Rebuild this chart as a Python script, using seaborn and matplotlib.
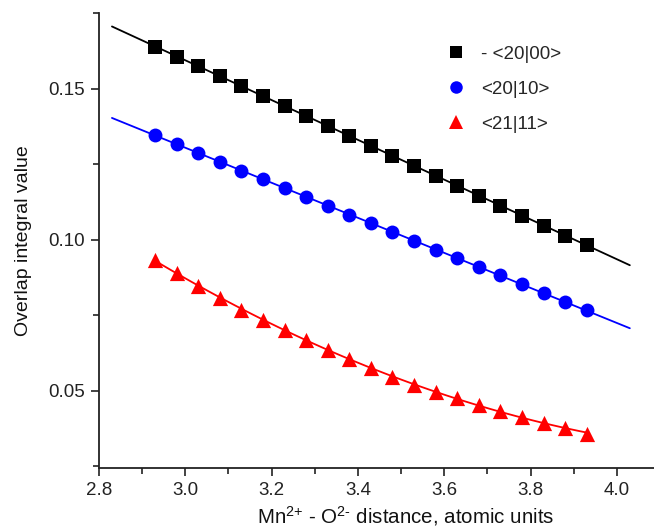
import numpy as np
import pandas as pd
import matplotlib
matplotlib.use("Agg")
import matplotlib.pyplot as plt
import seaborn as sns
from matplotlib.ticker import MultipleLocator

distance = [2.93, 2.98, 3.03, 3.08, 3.13, 3.18, 3.23, 3.28, 3.33, 3.38, 3.43,
            3.48, 3.53, 3.58, 3.63, 3.68, 3.73, 3.78, 3.83, 3.88, 3.93]
s20_00 = [0.1638, 0.1605, 0.1574, 0.1541, 0.1509, 0.1476, 0.1443, 0.1410, 0.1377,
          0.1344, 0.1311, 0.1278, 0.1245, 0.1212, 0.1179, 0.1146, 0.1113, 0.1080,
          0.1047, 0.1014, 0.0981]
s20_10 = [0.1347, 0.1317, 0.1288, 0.1258, 0.1229, 0.1200, 0.1170, 0.1141, 0.1112,
          0.1083, 0.1054, 0.1025, 0.0996, 0.0967, 0.0939, 0.0911, 0.0882, 0.0853,
          0.0824, 0.0795, 0.0766]
s21_11 = [0.0934, 0.0890, 0.0848, 0.0807, 0.0768, 0.0735, 0.0700, 0.0667, 0.0636,
          0.0606, 0.0577, 0.0547, 0.0521, 0.0497, 0.0475, 0.0454, 0.0432, 0.0413,
          0.0395, 0.0377, 0.0358]
labels = ["- <20|00>", "<20|10>", "<21|11>"]
colors = ["#000000", "#0000ff", "#ff0000"]
markers = ["s", "o", "^"]
fit_range = [2.83, 4.03]

sns.set_theme(style="ticks")
plt.rcParams["font.family"] = ["Liberation Sans", "DejaVu Sans"]
plt.rcParams["mathtext.fontset"] = "custom"
plt.rcParams["mathtext.rm"] = "Liberation Sans"
plt.rcParams["mathtext.it"] = "Liberation Sans:italic"

fig = plt.figure(figsize=(6.54, 5.28), dpi=100)
ax = fig.add_axes([99 / 654, 1 - 468 / 528, 1 - 99 / 654, (468 - 13) / 528])

series = [s20_00, s20_10, s21_11]
x = np.array(distance)
handles = []
for i, (ys, lab, c, m) in enumerate(zip(series, labels, colors, markers)):
    ys = np.array(ys)
    if i < 2:
        coef = np.polyfit(x, ys, 1)
        xf = np.linspace(fit_range[0], fit_range[1], 50)
    else:
        coef = np.polyfit(x, ys, 2)
        xf = np.linspace(x[0], x[-1], 50)
    fit = pd.DataFrame({"x": xf, "y": np.polyval(coef, xf)})
    sns.lineplot(data=fit, x="x", y="y", ax=ax, color=c, lw=1.3, legend=False)
    df = pd.DataFrame({"x": x, "y": ys})
    msize = 120 if m == "^" else 100
    sns.scatterplot(data=df, x="x", y="y", ax=ax, color=c, marker=m, s=msize,
                    edgecolor=c, linewidth=0, legend=False, zorder=3)
    handles.append(plt.Line2D([], [], ls="", marker=m, color=c, markersize=9 if m != "^" else 10,
                              markeredgewidth=0, label=lab))

ax.set_xlim(2.8, 4.086)
ax.set_ylim(0.0245, 0.175)
ax.xaxis.set_major_locator(MultipleLocator(0.2))
ax.xaxis.set_minor_locator(MultipleLocator(0.1))
ax.yaxis.set_major_locator(MultipleLocator(0.05))
ax.yaxis.set_minor_locator(MultipleLocator(0.025))
ax.xaxis.set_major_formatter(matplotlib.ticker.FormatStrFormatter("%.1f"))
ax.yaxis.set_major_formatter(matplotlib.ticker.FormatStrFormatter("%.2f"))
for s in ["top", "right"]:
    ax.spines[s].set_visible(False)
for s in ["left", "bottom"]:
    ax.spines[s].set_color("#222222")
    ax.spines[s].set_linewidth(1.3)
ax.tick_params(which="major", length=6, width=1.2, colors="#222222", labelsize=13.5, pad=4)
ax.tick_params(which="minor", length=4, width=1.2, colors="#222222")
ax.tick_params(labelcolor="#222222")

ax.set_xlabel(r"Mn$^{\text{2+}}$ - O$^{\text{2-}}$ distance, atomic units", fontsize=14.8,
              color="#111111")
ax.xaxis.set_label_coords(0.553, -0.080)
ax.set_ylabel("Overlap integral value", fontsize=14, color="#111111", labelpad=12)

ax.legend(handles=handles, loc="upper left", bbox_to_anchor=(0.60, 0.957), frameon=False,
          fontsize=13.5, handlelength=1.2, handletextpad=0.7, labelspacing=0.95,
          borderpad=0.2)

fig.savefig("out.png", dpi=100)
